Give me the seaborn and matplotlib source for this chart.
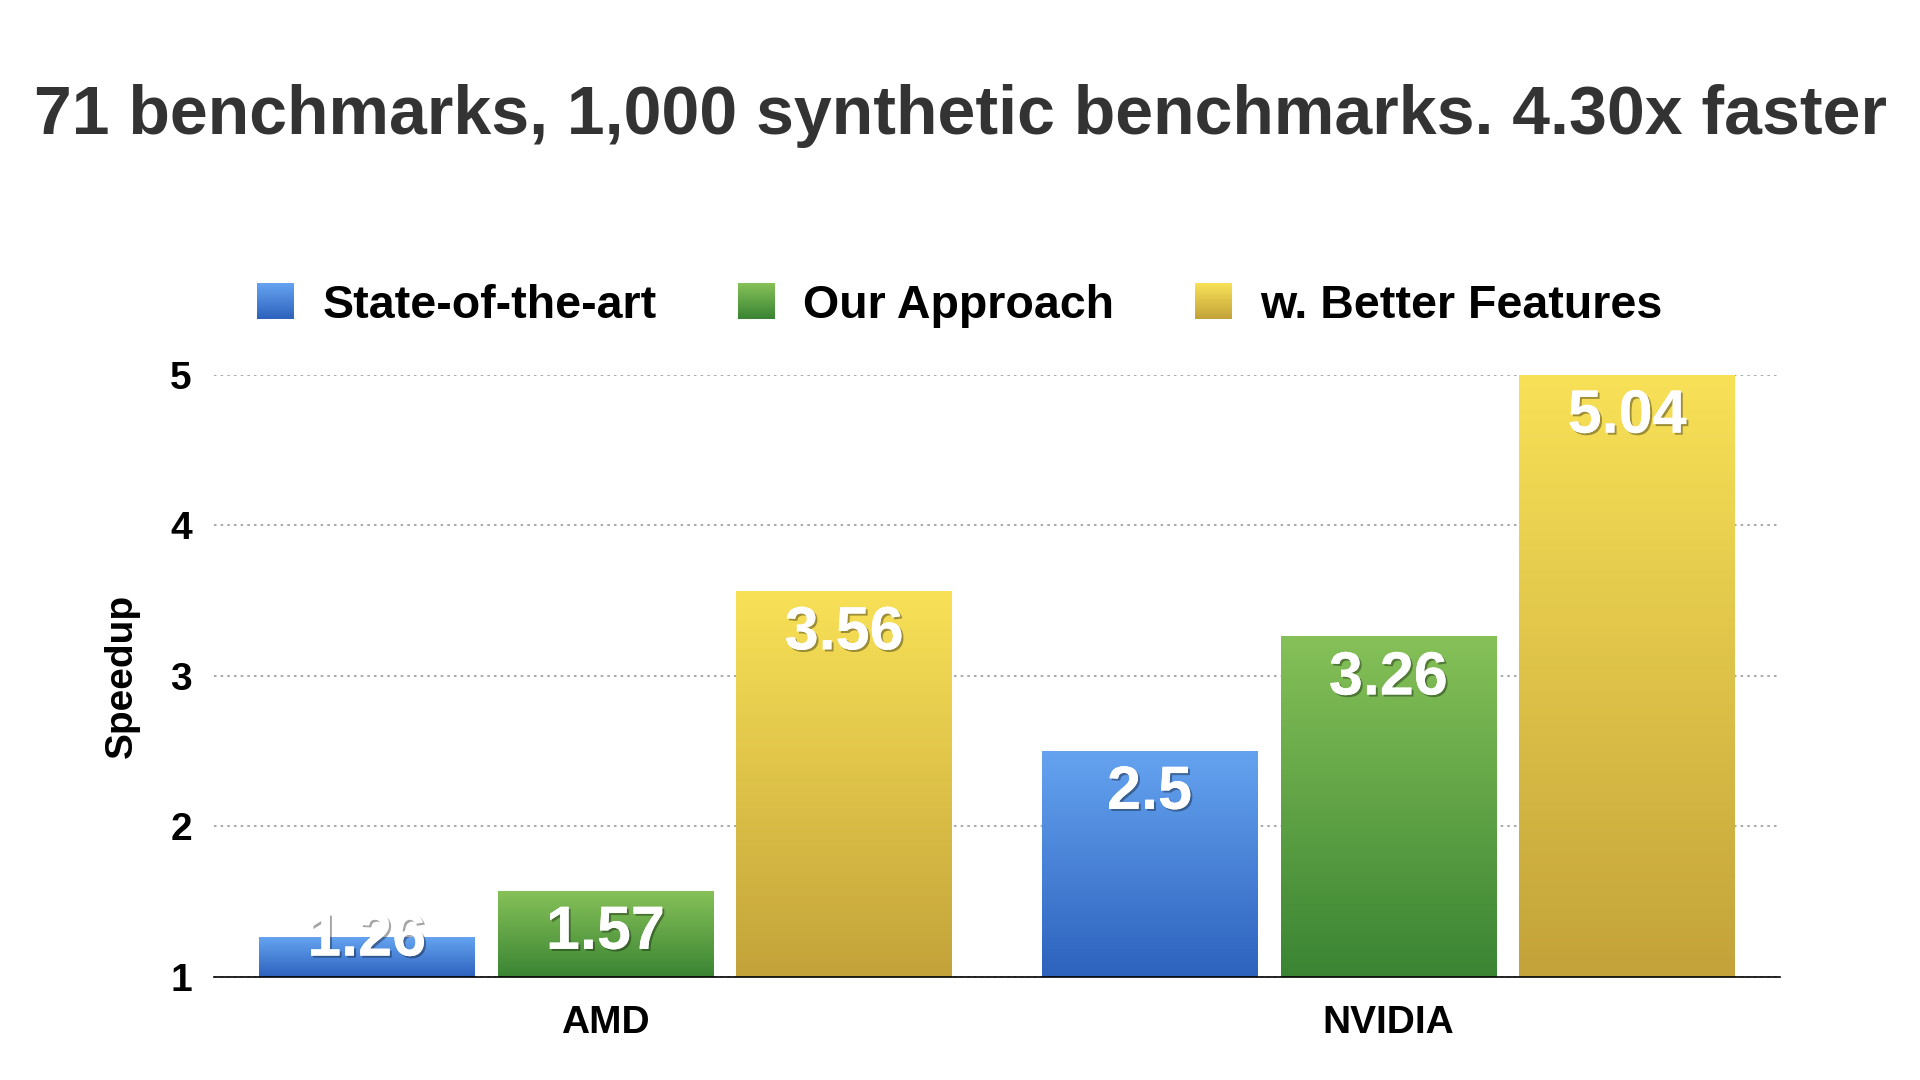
import numpy as np
import pandas as pd
import matplotlib
matplotlib.use('Agg')
import matplotlib.pyplot as plt
import matplotlib.patheffects as pe
from matplotlib.colors import LinearSegmentedColormap, to_rgb
import seaborn as sns

# ============================================================================
# DATOS
# ============================================================================

gpus = ['AMD', 'NVIDIA']
metodos = ['State-of-the-art', 'Our Approach', 'w. Better Features']
state_of_the_art = [1.26, 2.5]
our_approach = [1.57, 3.26]
better_features = [3.56, 5.04]
etiquetas = ['1.26', '2.5', '1.57', '3.26', '3.56', '5.04']

# colores (arriba, abajo) del degradado
colores = {
    'State-of-the-art': ('#65a3f0', '#2d62bd'),
    'Our Approach': ('#86c158', '#3a8433'),
    'w. Better Features': ('#f8e157', '#c3a33a'),
}

df = pd.DataFrame({
    'gpu': gpus * 3,
    'metodo': [m for m in metodos for _ in gpus],
    'speedup': state_of_the_art + our_approach + better_features,
})

YMIN, YMAX = 1, 5

sns.set_theme(style='white')
plt.rcParams['font.family'] = ['Liberation Sans', 'DejaVu Sans']

fig = plt.figure(figsize=(19.2, 10.8), dpi=100)
ax = fig.add_axes([0.1115, 0.0954, 0.8155, 0.5574])

paleta = {m: colores[m][1] for m in metodos}
sns.barplot(data=df, x='gpu', y='speedup', hue='metodo', hue_order=metodos,
            order=gpus, palette=paleta, width=0.915, gap=0.097,
            saturation=1, legend=False, ax=ax)

ax.set_ylim(YMIN, YMAX)
ax.set_xlim(-0.5, 1.5)

# Degradado en cada barra
barras = [p for p in ax.patches]
orden_colores = [colores[m] for m in metodos for _ in gpus]
for patch, (top_c, bot_c) in zip(barras, orden_colores):
    x0 = patch.get_x()
    x1 = x0 + patch.get_width()
    y0 = max(patch.get_y(), YMIN)
    y1 = min(patch.get_y() + patch.get_height(), YMAX)
    cmap = LinearSegmentedColormap.from_list('g', [bot_c, top_c])
    grad = np.linspace(0, 1, 256).reshape(-1, 1)
    ax.imshow(grad, extent=[x0, x1, y0, y1], origin='lower', aspect='auto',
              cmap=cmap, zorder=patch.get_zorder(), interpolation='bicubic')
    patch.set_visible(False)

ax.set_xlim(-0.5, 1.5)
ax.set_ylim(YMIN, YMAX)
ax.set_aspect('auto')

# Etiquetas de valores
sombra = [pe.withSimplePatchShadow(offset=(1.5, -1.5), shadow_rgbFace='black', alpha=0.35),
          pe.Normal()]
for patch, txt in zip(barras, etiquetas):
    xc = patch.get_x() + patch.get_width() / 2
    top = min(patch.get_y() + patch.get_height(), YMAX)
    yc = max(top - 0.28, 1.245)
    ax.text(xc, yc, txt, ha='center', va='center', color='white',
            fontsize=44, fontweight='bold', path_effects=sombra, zorder=5)

# Ejes y rejilla
ax.set_yticks([1, 2, 3, 4, 5])
ax.yaxis.grid(True, linestyle=(0, (1.5, 2.5)), color='#999999', linewidth=1.2)
ax.xaxis.grid(False)
ax.set_axisbelow(True)
for lado in ['top', 'right', 'left']:
    ax.spines[lado].set_visible(False)
ax.spines['bottom'].set_color('black')
ax.spines['bottom'].set_linewidth(1.2)
ax.tick_params(axis='both', length=0, labelsize=28, colors='black')
ax.tick_params(axis='y', pad=16)
ax.tick_params(axis='x', pad=20)
for lab in ax.get_xticklabels() + ax.get_yticklabels():
    lab.set_fontweight('bold')
ax.set_xlabel('')
ax.set_ylabel('Speedup', fontsize=28, fontweight='bold', color='black', labelpad=22)

# Leyenda
handles = [plt.Rectangle((0, 0), 1, 1, color=colores[m][0]) for m in metodos]
leg = fig.legend(handles, metodos, loc='center', bbox_to_anchor=(0.5, 0.717), ncol=3,
                 frameon=False, prop={'size': 33.5, 'weight': 'bold'},
                 handlelength=0.8, handleheight=0.8, handletextpad=0.6,
                 columnspacing=1.75)
for t in leg.get_texts():
    t.set_color('black')

fig.text(0.5, 0.893, '71 benchmarks, 1,000 synthetic benchmarks. 4.30x faster',
         ha='center', va='center', fontsize=49, fontweight='bold', color='#333333')

# Degradado en los cuadros de la leyenda
fig.canvas.draw()
for h, m in zip(leg.legend_handles, metodos):
    bb = h.get_window_extent()
    w, hh = int(round(bb.width)), int(round(bb.height))
    top_c, bot_c = np.array(to_rgb(colores[m][0])), np.array(to_rgb(colores[m][1]))
    t = np.linspace(0, 1, hh).reshape(-1, 1, 1)
    arr = top_c * (1 - t) + bot_c * t
    arr = np.repeat(arr, w, axis=1)
    fig.figimage(arr, xo=int(round(bb.x0)), yo=int(round(bb.y0)), origin='upper', zorder=10)
    h.set_visible(False)

fig.savefig('out.png', dpi=100)
